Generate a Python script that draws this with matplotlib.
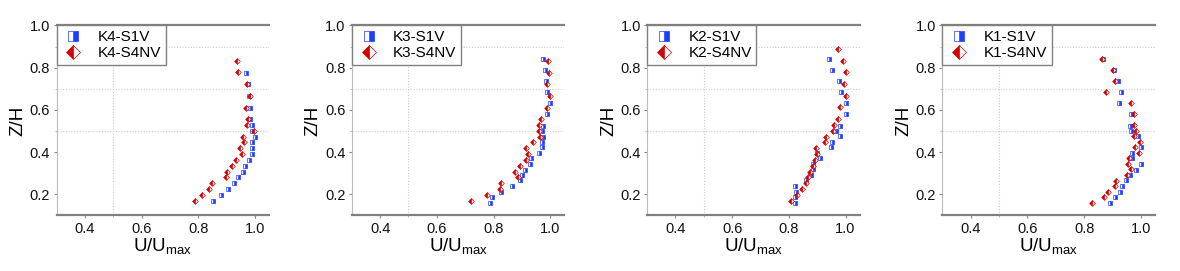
import matplotlib
matplotlib.use("Agg")
import matplotlib.pyplot as plt
from matplotlib.ticker import FixedLocator

plt.rcParams['font.family'] = ['Liberation Sans', 'DejaVu Sans']
plt.rcParams['mathtext.default'] = 'regular'

panel_names = ["K4", "K3", "K2", "K1"]

# Panel K4
k4_s1v_u = [0.968, 0.974, 0.979, 0.982, 0.983, 0.988, 0.991, 1.000, 0.989, 0.989,
            0.988, 0.979, 0.966, 0.958, 0.941, 0.926, 0.904, 0.882, 0.853]
k4_s1v_z = [0.776, 0.723, 0.666, 0.610, 0.555, 0.530, 0.501, 0.473, 0.446, 0.418,
            0.391, 0.363, 0.336, 0.307, 0.281, 0.252, 0.225, 0.197, 0.168]
k4_s4nv_u = [0.935, 0.940, 0.972, 0.982, 0.967, 0.974, 0.973, 0.998, 0.959, 0.962,
             0.947, 0.953, 0.932, 0.920, 0.901, 0.898, 0.850, 0.838, 0.813, 0.790]
k4_s4nv_z = [0.832, 0.778, 0.723, 0.666, 0.610, 0.555, 0.530, 0.501, 0.473, 0.446,
             0.418, 0.391, 0.363, 0.336, 0.307, 0.281, 0.252, 0.225, 0.197, 0.168]

# Panel K3
k3_s1v_u = [0.975, 0.982, 0.986, 0.987, 1.000, 0.988, 0.976, 0.971, 0.973, 0.972,
            0.972, 0.959, 0.932, 0.927, 0.911, 0.899, 0.894, 0.866, 0.825, 0.793, 0.788]
k3_s1v_z = [0.843, 0.789, 0.738, 0.683, 0.633, 0.581, 0.525, 0.501, 0.473, 0.446,
            0.423, 0.396, 0.371, 0.344, 0.315, 0.293, 0.266, 0.239, 0.211, 0.186, 0.159]
k3_s4nv_u = [0.992, 0.994, 0.990, 1.000, 0.989, 0.967, 0.959, 0.960, 0.965, 0.938,
             0.913, 0.920, 0.916, 0.895, 0.874, 0.886, 0.828, 0.824, 0.778, 0.721]
k3_s4nv_z = [0.833, 0.776, 0.723, 0.667, 0.610, 0.555, 0.527, 0.501, 0.473, 0.446,
             0.418, 0.391, 0.363, 0.336, 0.307, 0.281, 0.252, 0.225, 0.197, 0.168]

# Panel K2
k2_s1v_u = [0.940, 0.951, 0.976, 0.985, 1.000, 1.000, 0.979, 0.967, 0.982, 0.951,
            0.948, 0.900, 0.911, 0.884, 0.886, 0.878, 0.860, 0.823, 0.826, 0.823, 0.823]
k2_s1v_z = [0.843, 0.789, 0.738, 0.685, 0.633, 0.581, 0.525, 0.501, 0.475, 0.448,
            0.423, 0.396, 0.371, 0.344, 0.318, 0.291, 0.266, 0.239, 0.212, 0.187, 0.159]
k2_s4nv_u = [0.973, 0.992, 1.000, 0.993, 1.000, 0.981, 0.974, 0.960, 0.955, 0.931,
             0.928, 0.895, 0.899, 0.892, 0.885, 0.873, 0.867, 0.860, 0.847, 0.828, 0.807]
k2_s4nv_z = [0.889, 0.833, 0.778, 0.724, 0.667, 0.612, 0.555, 0.527, 0.501, 0.473,
             0.446, 0.419, 0.391, 0.364, 0.334, 0.307, 0.281, 0.252, 0.224, 0.197, 0.168]

# Panel K1
k1_s1v_u = [0.867, 0.904, 0.919, 0.930, 0.923, 0.966, 0.961, 0.967, 0.990, 1.000,
            0.968, 0.969, 1.000, 0.982, 0.962, 0.947, 0.933, 0.925, 0.909, 0.893]
k1_s1v_z = [0.841, 0.789, 0.737, 0.683, 0.633, 0.581, 0.525, 0.501, 0.475, 0.423,
            0.396, 0.371, 0.344, 0.317, 0.291, 0.266, 0.239, 0.212, 0.187, 0.159]
k1_s4nv_u = [0.863, 0.901, 0.909, 0.877, 0.964, 0.975, 0.977, 0.982, 0.976, 0.997,
             0.980, 0.994, 0.959, 0.955, 0.967, 0.951, 0.911, 0.909, 0.884, 0.869, 0.826]
k1_s4nv_z = [0.841, 0.789, 0.736, 0.683, 0.633, 0.581, 0.527, 0.501, 0.475, 0.449,
             0.423, 0.396, 0.371, 0.344, 0.318, 0.291, 0.265, 0.239, 0.212, 0.187, 0.159]

panels = [
    (k4_s1v_u, k4_s1v_z, k4_s4nv_u, k4_s4nv_z),
    (k3_s1v_u, k3_s1v_z, k3_s4nv_u, k3_s4nv_z),
    (k2_s1v_u, k2_s1v_z, k2_s4nv_u, k2_s4nv_z),
    (k1_s1v_u, k1_s1v_z, k1_s4nv_u, k1_s4nv_z),
]

x_ticks = [0.4, 0.6, 0.8, 1.0]
x_tick_labels = ["0.4", "0.6", "0.8", "1.0"]
y_ticks = [0.2, 0.4, 0.6, 0.8, 1.0]
y_tick_labels = ["0.2", "0.4", "0.6", "0.8", "1.0"]

BLUE = "#1f3dff"
RED = "#d40000"
W, H = 1180, 271

fig = plt.figure(figsize=(W / 100, H / 100), dpi=100)

for i, (name, (bu, bz, ru, rz)) in enumerate(zip(panel_names, panels)):
    left = 56.5 + 295.3 * i
    ax = fig.add_axes([left / W, 55.6 / H, 212.6 / W, 189.9 / H])
    ax.plot(bu, bz, linestyle="none", marker="s", markersize=2.7,
            fillstyle="right", color=BLUE, markerfacecoloralt="white",
            markeredgecolor=BLUE, markeredgewidth=0.5, label=f"{name}-S1V")
    ax.plot(ru, rz, linestyle="none", marker="D", markersize=2.9,
            fillstyle="left", color=RED, markerfacecoloralt="white",
            markeredgecolor=RED, markeredgewidth=0.5, label=f"{name}-S4NV")
    ax.set_xlim(0.3, 1.05)
    ax.set_ylim(0.1, 1.0)
    ax.set_xticks(x_ticks)
    ax.set_xticklabels(x_tick_labels)
    ax.set_yticks(y_ticks)
    ax.set_yticklabels(y_tick_labels)
    ax.xaxis.set_minor_locator(FixedLocator([0.5]))
    ax.yaxis.set_minor_locator(FixedLocator([0.5, 0.7, 0.9]))
    ax.grid(which="minor", color="#cccccc", linestyle=(0, (1, 1.5)), linewidth=0.8)
    ax.tick_params(which="major", direction="out", length=2.5, width=0.8,
                   color="#888888", labelsize=10.5, pad=2, labelcolor="#111111")
    ax.tick_params(which="minor", direction="out", length=1.5, width=0.6, color="#aaaaaa")
    ax.spines["right"].set_visible(False)
    ax.spines["top"].set_color("#808080")
    ax.spines["top"].set_linewidth(1.6)
    ax.spines["bottom"].set_color("#808080")
    ax.spines["bottom"].set_linewidth(1.6)
    ax.spines["left"].set_color("#bbbbbb")
    ax.spines["left"].set_linewidth(0.8)
    ax.set_ylabel("Z/H", fontsize=13.5)
    ax.yaxis.set_label_coords(-30 / 212.6, 0.5)
    ax.set_xlabel("U/U$_{max}$", fontsize=13.5)
    ax.xaxis.set_label_coords(0.5, -21 / 189.9)
    leg = ax.legend(loc="upper left", bbox_to_anchor=(0, 1), borderaxespad=0,
                    fontsize=11, markerscale=2.6, fancybox=False, framealpha=1,
                    edgecolor="#808080", handlelength=1.6, handletextpad=0.8,
                    borderpad=0.3, labelspacing=0.15)
    leg.get_frame().set_linewidth(1.0)

fig.savefig("out.png", dpi=100)
